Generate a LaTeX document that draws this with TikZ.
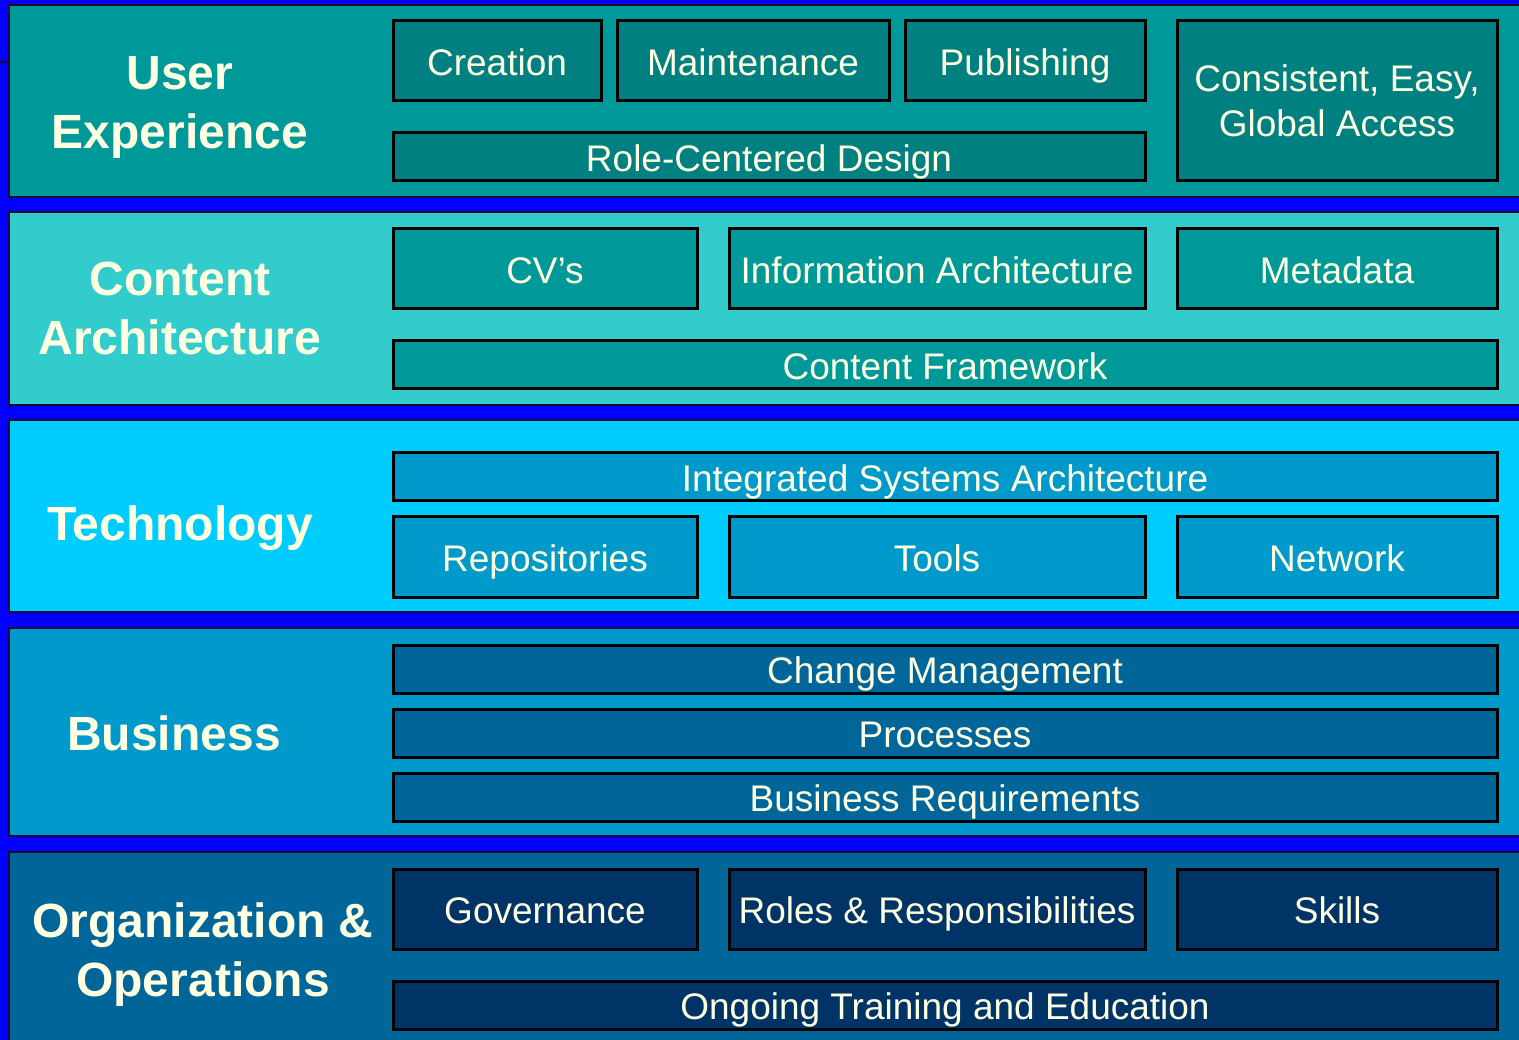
\documentclass[tikz,border=0pt]{standalone}
\usepackage{fontspec}
\setmainfont{Liberation Sans}
\definecolor{bgblue}{HTML}{0000FF}
\definecolor{txt}{HTML}{FFFFE1}
\definecolor{bandline}{HTML}{1A0A33}
\definecolor{uxband}{HTML}{009999}
\definecolor{uxbox}{HTML}{008080}
\definecolor{caband}{HTML}{33CCCC}
\definecolor{cabox}{HTML}{009999}
\definecolor{teband}{HTML}{00CCFF}
\definecolor{tebox}{HTML}{0099CC}
\definecolor{buband}{HTML}{0099CC}
\definecolor{bubox}{HTML}{006699}
\definecolor{orband}{HTML}{006699}
\definecolor{orbox}{HTML}{003366}
\tikzset{
  band/.style={draw=bandline, line width=2.2pt, rectangle, inner sep=0pt, outer sep=0pt},
  ibox/.style={draw=black, line width=3pt, rectangle, inner sep=0pt, outer sep=0pt, text=txt,
    font=\fontsize{37}{44}\selectfont, align=center, text height=37pt, text depth=8pt},
  blabel/.style={text=txt, font=\bfseries\fontsize{48}{59}\selectfont, align=center, inner sep=0pt},
}
\begin{document}
\begin{tikzpicture}[x=1pt,y=-1pt]
\useasboundingbox (0,0) rectangle (1519,1040);
\fill[bgblue] (0,0) rectangle (1519,1040);
% stray mark at left
\coordinate (m1) at (0,62);
\coordinate (m2) at (9,62);
\draw[bandline, line width=2pt] (m1) -- (m2);
% bands
\node[band, fill=uxband, minimum width=1530pt, minimum height=192pt, anchor=north west] (uxb) at (9,5) {};
\node[band, fill=caband, minimum width=1530pt, minimum height=193pt, anchor=north west] (cab) at (9,212) {};
\node[band, fill=teband, minimum width=1530pt, minimum height=192pt, anchor=north west] (teb) at (9,420) {};
\node[band, fill=buband, minimum width=1530pt, minimum height=208pt, anchor=north west] (bub) at (9,628) {};
\node[band, fill=orband, minimum width=1530pt, minimum height=210pt, anchor=north west] (orb) at (9,852) {};
% band labels
\node[blabel] (uxl) at (180,107) {User\\Experience};
\node[blabel] (cal) at (180,308) {Content\\Architecture};
\node[blabel] (tel) at (180,528) {Technology};
\node[blabel] (bul) at (174,733) {Business};
\node[blabel] (orl) at (203,955) {Organization \&\\Operations};
% User experience
\node[ibox, fill=uxbox, minimum width=208pt, minimum height=80pt] (creation) at (497,61) {Creation};
\node[ibox, fill=uxbox, minimum width=272pt, minimum height=80pt] (maint) at (753,61) {Maintenance};
\node[ibox, fill=uxbox, minimum width=240pt, minimum height=80pt] (publ) at (1025,61) {Publishing};
\node[ibox, fill=uxbox, minimum width=752pt, minimum height=48pt] (role) at (769,157) {Role-Centered Design};
\node[draw=black, line width=3pt, rectangle, inner sep=0pt, outer sep=0pt, text=txt, align=center,
  font=\fontsize{37}{45}\selectfont, fill=uxbox, minimum width=320pt, minimum height=160pt] (consist) at (1337,101) {Consistent, Easy,\\Global Access};
% Content architecture
\node[ibox, fill=cabox, minimum width=304pt, minimum height=80pt] (cvs) at (545,269) {CV’s};
\node[ibox, fill=cabox, minimum width=416pt, minimum height=80pt] (infoarch) at (937,269) {Information Architecture};
\node[ibox, fill=cabox, minimum width=320pt, minimum height=80pt] (meta) at (1337,269) {Metadata};
\node[ibox, fill=cabox, minimum width=1104pt, minimum height=48pt] (cfw) at (945,365) {Content Framework};
% Technology
\node[ibox, fill=tebox, minimum width=1104pt, minimum height=48pt] (isa) at (945,477) {Integrated Systems Architecture};
\node[ibox, fill=tebox, minimum width=304pt, minimum height=80pt] (repo) at (545,557) {Repositories};
\node[ibox, fill=tebox, minimum width=416pt, minimum height=80pt] (tools) at (937,557) {Tools};
\node[ibox, fill=tebox, minimum width=320pt, minimum height=80pt] (net) at (1337,557) {Network};
% Business
\node[ibox, fill=bubox, minimum width=1104pt, minimum height=48pt] (chg) at (945,669) {Change Management};
\node[ibox, fill=bubox, minimum width=1104pt, minimum height=48pt] (proc) at (945,733) {Processes};
\node[ibox, fill=bubox, minimum width=1104pt, minimum height=48pt] (breq) at (945,797) {Business Requirements};
% Organization
\node[ibox, fill=orbox, minimum width=304pt, minimum height=80pt] (gov) at (545,909) {Governance};
\node[ibox, fill=orbox, minimum width=416pt, minimum height=80pt] (roles) at (937,909) {Roles \& Responsibilities};
\node[ibox, fill=orbox, minimum width=320pt, minimum height=80pt] (skills) at (1337,909) {Skills};
\node[ibox, fill=orbox, minimum width=1104pt, minimum height=48pt] (train) at (945,1005) {Ongoing Training and Education};
\end{tikzpicture}
\end{document}
